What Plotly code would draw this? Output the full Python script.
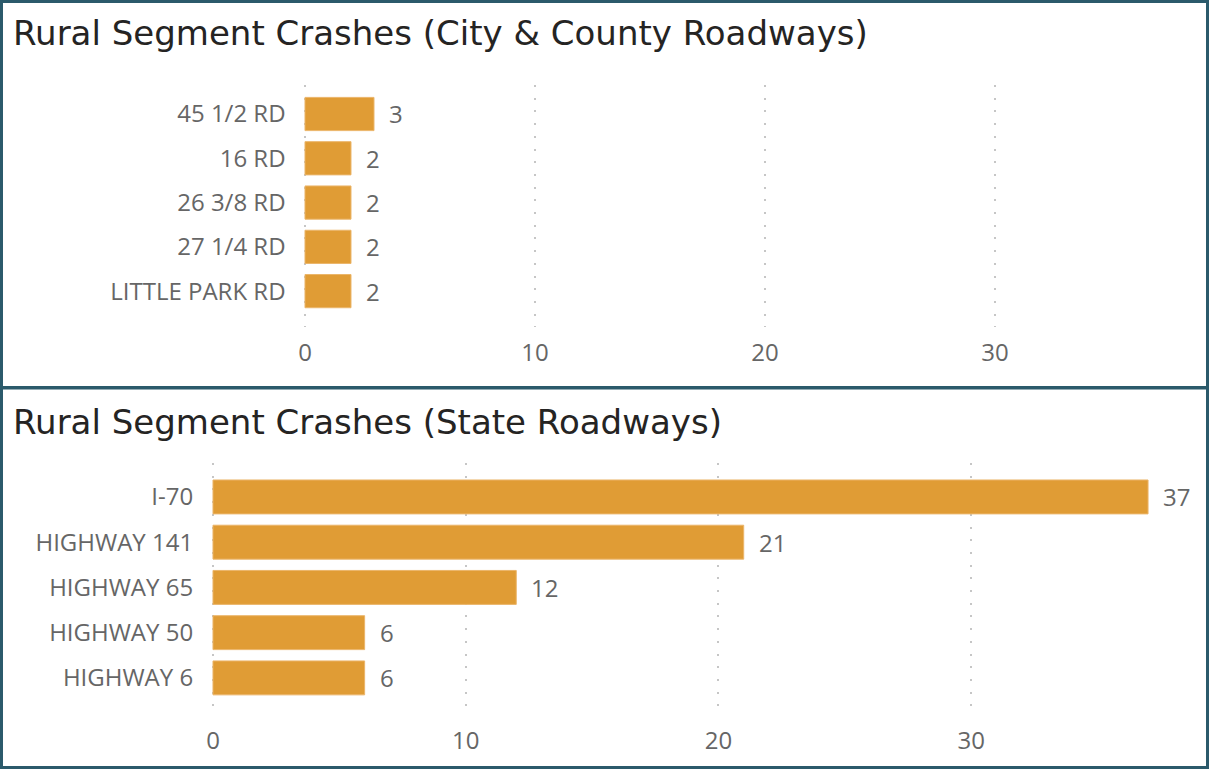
import plotly.graph_objects as go

# Rural segment crash counts by roadway
city_roads = ["45 1/2 RD", "16 RD", "26 3/8 RD", "27 1/4 RD", "LITTLE PARK RD"]
city_crashes = [3, 2, 2, 2, 2]

state_roads = ["I-70", "HIGHWAY 141", "HIGHWAY 65", "HIGHWAY 50", "HIGHWAY 6"]
state_crashes = [37, 21, 12, 6, 6]

x_ticks = [0, 10, 20, 30]

W, H = 1210, 770
BAR = "#E09C35"
LABEL = "#666666"
TITLE = "#252423"
FRAME = "#2B5A6B"
BODY_FONT = "Open Sans"
TITLE_FONT = "DejaVu Sans"
BODY_SIZE = 24


def py(p):
    """pixel row -> paper y"""
    return 1 - p / H


def px(p):
    return p / W


fig = go.Figure()

fig.add_trace(go.Bar(
    x=city_crashes, y=city_roads, orientation="h",
    marker=dict(color=BAR, line=dict(color="#EBB56A", width=1)),
    width=0.75, xaxis="x", yaxis="y", hoverinfo="x+y",
))
fig.add_trace(go.Bar(
    x=state_crashes, y=state_roads, orientation="h",
    marker=dict(color=BAR, line=dict(color="#EBB56A", width=1)),
    width=0.75, xaxis="x2", yaxis="y2", hoverinfo="x+y",
))

# value labels just past each bar end
annotations = []
for roads, vals, xa, ya in [(city_roads, city_crashes, "x", "y"),
                            (state_roads, state_crashes, "x2", "y2")]:
    for r, v in zip(roads, vals):
        annotations.append(dict(
            x=v, y=r, xref=xa, yref=ya, text=str(v), showarrow=False,
            xanchor="left", xshift=13,
            font=dict(family=BODY_FONT, size=BODY_SIZE, color=LABEL),
        ))

# panel titles
annotations.append(dict(
    x=px(11), y=py(33), xref="paper", yref="paper", xanchor="left", yanchor="middle",
    text="Rural Segment Crashes (City & County Roadways)", showarrow=False,
    font=dict(family=TITLE_FONT, size=34, color=TITLE),
))
annotations.append(dict(
    x=px(11), y=py(422), xref="paper", yref="paper", xanchor="left", yanchor="middle",
    text="Rural Segment Crashes (State Roadways)", showarrow=False,
    font=dict(family=TITLE_FONT, size=34, color=TITLE),
))

grid = dict(
    showgrid=True, gridcolor="#C6C6C6", gridwidth=2, griddash="2px,10.7px",
    zeroline=False, showline=False, tickvals=x_ticks, automargin=False,
    ticks="outside", ticklen=4, tickcolor="rgba(0,0,0,0)",
    tickfont=dict(family=BODY_FONT, size=BODY_SIZE, color=LABEL),
)
cat = dict(
    showgrid=False, zeroline=False, showline=False, automargin=False,
    ticks="outside", ticklen=9, tickcolor="rgba(0,0,0,0)",
    tickfont=dict(family=BODY_FONT, size=BODY_SIZE, color=LABEL),
)

# a small negative start keeps the 0 gridline inside the plot area
X0_PAD = 0.2

fig.update_layout(
    width=W, height=H,
    margin=dict(l=0, r=0, t=0, b=0),
    paper_bgcolor="white", plot_bgcolor="white",
    showlegend=False,
    xaxis=dict(domain=[px(305 - X0_PAD * 23.0), px(1190)], range=[-X0_PAD, 38.48],
               anchor="y", **grid),
    yaxis=dict(domain=[py(327), py(85)], range=[4.81, -0.655],
               categoryorder="array", categoryarray=city_roads, anchor="x", **cat),
    xaxis2=dict(domain=[px(213 - X0_PAD * 25.27), px(1190)], range=[-X0_PAD, 38.66],
                anchor="y2", **grid),
    yaxis2=dict(domain=[py(715), py(463)], range=[4.82, -0.75],
                categoryorder="array", categoryarray=state_roads, anchor="x2", **cat),
    annotations=annotations,
    shapes=[
        dict(type="rect", xref="paper", yref="paper",
             x0=px(1.5), x1=px(1207.5), y0=py(1.5), y1=py(387.5),
             line=dict(color=FRAME, width=3)),
        dict(type="rect", xref="paper", yref="paper",
             x0=px(1.5), x1=px(1207.5), y0=py(388), y1=py(767.5),
             line=dict(color=FRAME, width=3)),
    ],
)

fig.write_html("out.html")
